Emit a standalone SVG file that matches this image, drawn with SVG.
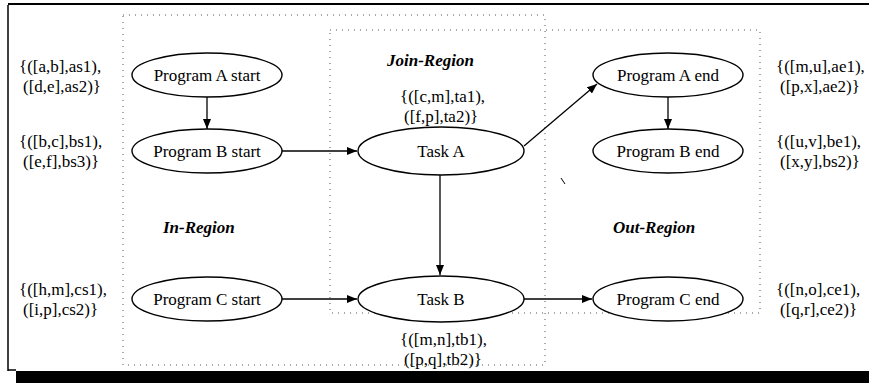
<svg xmlns="http://www.w3.org/2000/svg" width="869" height="383" viewBox="0 0 869 383">
<style>
text{font-family:"Liberation Serif","DejaVu Serif","Times New Roman",serif;font-size:17px;fill:#000}
.c{text-anchor:middle}
.r{font-style:italic;font-weight:bold}
.n ellipse{fill:#fff;stroke:#000;stroke-width:1.4}
.e{stroke:#000;stroke-width:1.3;fill:none}
.d{fill:none;stroke:#555;stroke-width:1;stroke-dasharray:1 5}
</style>
<defs>
<marker id="ah" viewBox="0 0 10 8" refX="10" refY="4" markerWidth="10" markerHeight="8" markerUnits="userSpaceOnUse" orient="auto">
<path d="M0,0 L10,4 L0,8 Z" fill="#000"/>
</marker>
</defs>
<rect x="0" y="0" width="869" height="383" fill="#fff"/>
<g id="frame">
<line x1="8" y1="5" x2="8" y2="371" stroke="#000" stroke-width="1.5"/>
<line x1="8" y1="4" x2="869" y2="4" stroke="#000" stroke-width="2"/>
<line x1="8" y1="370" x2="16" y2="370" stroke="#000" stroke-width="1.5"/>
<rect x="16" y="371" width="853" height="12" fill="#000"/>
</g>
<g id="regions" font-family="Liberation Serif, serif">
<rect class="d" x="123" y="15" width="422" height="350"/>
<rect class="d" x="330" y="30" width="430" height="283"/>
<text class="r" x="163" y="233">In-Region</text>
<text class="r" x="387" y="66">Join-Region</text>
<text class="r" x="613" y="233">Out-Region</text>
<line x1="561" y1="178" x2="565" y2="184" stroke="#000" stroke-width="1"/>
</g>
<g id="connectors">
<line class="e" x1="207" y1="97" x2="207" y2="129" marker-end="url(#ah)"/>
<line class="e" x1="282" y1="151" x2="357" y2="151" marker-end="url(#ah)"/>
<line class="e" x1="282" y1="299" x2="357" y2="299" marker-end="url(#ah)"/>
<line class="e" x1="440" y1="175" x2="440" y2="275" marker-end="url(#ah)"/>
<line class="e" x1="524" y1="146" x2="597" y2="84" marker-end="url(#ah)"/>
<line class="e" x1="668" y1="97" x2="668" y2="129" marker-end="url(#ah)"/>
<line class="e" x1="523" y1="299" x2="592" y2="299" marker-end="url(#ah)"/>
</g>
<g id="pas" class="n"><ellipse cx="207" cy="75" rx="75" ry="22"/><text class="c" x="207" y="81">Program A start</text></g>
<g id="pbs" class="n"><ellipse cx="207" cy="151" rx="75" ry="22"/><text class="c" x="207" y="157">Program B start</text></g>
<g id="pcs" class="n"><ellipse cx="207" cy="299" rx="75" ry="22"/><text class="c" x="207" y="305">Program C start</text></g>
<g id="ta" class="n"><ellipse cx="441" cy="151" rx="83" ry="24"/><text class="c" x="441" y="157">Task A</text></g>
<g id="tb" class="n"><ellipse cx="441" cy="299" rx="83" ry="23"/><text class="c" x="441" y="305">Task B</text></g>
<g id="pae" class="n"><ellipse cx="668" cy="75" rx="75" ry="22"/><text class="c" x="668" y="81">Program A end</text></g>
<g id="pbe" class="n"><ellipse cx="668" cy="151" rx="75" ry="22"/><text class="c" x="668" y="157">Program B end</text></g>
<g id="pce" class="n"><ellipse cx="668" cy="299" rx="75" ry="22"/><text class="c" x="668" y="305">Program C end</text></g>
<g id="labels">
<text x="19" y="72">{([a,b],as1),</text>
<text x="23" y="92">([d,e],as2)}</text>
<text x="19" y="147">{([b,c],bs1),</text>
<text x="23" y="167">([e,f],bs3)}</text>
<text x="19" y="295">{([h,m],cs1),</text>
<text x="23" y="315">([i,p],cs2)}</text>
<text x="400" y="102">{([c,m],ta1),</text>
<text x="404" y="122">([f,p],ta2)}</text>
<text x="400" y="345">{([m,n],tb1),</text>
<text x="404" y="365">([p,q],tb2)}</text>
<text x="776" y="72">{([m,u],ae1),</text>
<text x="780" y="92">([p,x],ae2)}</text>
<text x="776" y="147">{([u,v],be1),</text>
<text x="780" y="167">([x,y],bs2)}</text>
<text x="776" y="295">{([n,o],ce1),</text>
<text x="780" y="315">([q,r],ce2)}</text>
</g>
</svg>
